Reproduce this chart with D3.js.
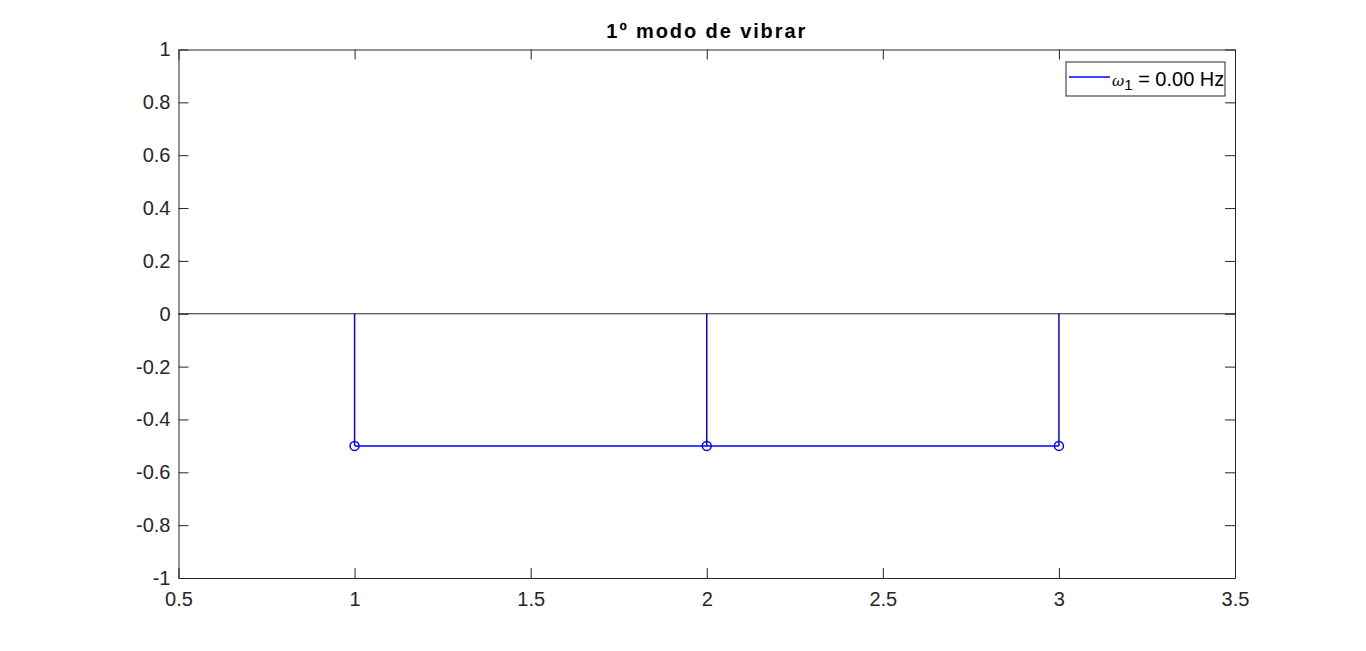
<!DOCTYPE html>
<html>
<head>
<meta charset="utf-8">
<script src="https://cdn.jsdelivr.net/npm/d3@7"></script>
<style>
  body { margin: 0; background: #fff; }
  text { font-family: "Liberation Sans", Arial, sans-serif; }
</style>
</head>
<body>
<div class="graph-container"></div>
<script>
// data
var nodes = [1, 2, 3]
var mode1 = [-0.5, -0.5, -0.5]
var xTicks = [0.5, 1, 1.5, 2, 2.5, 3, 3.5]
var yTicks = [-1, -0.8, -0.6, -0.4, -0.2, 0, 0.2, 0.4, 0.6, 0.8, 1]
var freqLabel = '0.00'

var W = 1366, H = 651
var margin = {top: 49.5, right: 131, bottom: 73, left: 178.5},
    width = W - margin.left - margin.right,
    height = H - margin.top - margin.bottom

var x = d3.scaleLinear().domain([0.5, 3.5]).range([0, width])
var y = d3.scaleLinear().domain([-1, 1]).range([height, 0])

var svg = d3.select(".graph-container").append("svg")
    .attr("width", W)
    .attr("height", H)

var g = svg.append("g")
    .attr("transform", "translate(" + margin.left + "," + margin.top + ")")

var axisCol = "#262626"

// axes (ticks inward, box)
var fmt = d => String(d)
var xAxis = d3.axisBottom(x).tickValues(xTicks).tickFormat(fmt).tickSizeInner(-10).tickSizeOuter(0)
var yAxis = d3.axisLeft(y).tickValues(yTicks).tickFormat(fmt).tickSizeInner(-10).tickSizeOuter(0)

g.append('g').attr('class', 'x-axis').attr("transform", "translate(0," + height + ")").call(xAxis)
g.append('g').attr('class', 'y-axis').call(yAxis)
g.append('g').attr('class', 'x-top').call(d3.axisTop(x).tickValues(xTicks).tickFormat('').tickSizeInner(-10).tickSizeOuter(0))
g.append('g').attr('class', 'y-right').attr("transform", "translate(" + width + ",0)")
  .call(d3.axisRight(y).tickValues(yTicks).tickFormat('').tickSizeInner(-10).tickSizeOuter(0))

g.selectAll('.domain, .tick line').attr('stroke', axisCol).attr('stroke-width', 1)
g.selectAll('.tick text').attr('fill', axisCol).style('font-size', '20px')
g.selectAll('.x-axis .tick text').attr('dy', '0.35em').attr('y', 21)
g.selectAll('.y-axis .tick text').attr('x', -8)

// baseline
g.append('line')
  .attr('x1', 0).attr('x2', width)
  .attr('y1', y(0)).attr('y2', y(0))
  .attr('stroke', axisCol).attr('stroke-width', 1)

var pts = nodes.map((n, i) => ({x: n, y: mode1[i]}))

// stems
g.selectAll('.stem').data(pts).enter().append('line')
  .attr('class', 'stem')
  .attr('x1', d => x(d.x)).attr('x2', d => x(d.x))
  .attr('y1', y(0)).attr('y2', d => y(d.y))
  .attr('stroke', '#0000ff').attr('stroke-width', 1.5)

// connecting line
var line = d3.line().x(d => x(d.x)).y(d => y(d.y))
g.append('path').datum(pts)
  .attr('d', line)
  .attr('fill', 'none')
  .attr('stroke', '#0000ff').attr('stroke-width', 1.5)

// markers
g.selectAll('.mk').data(pts).enter().append('circle')
  .attr('class', 'mk')
  .attr('cx', d => x(d.x)).attr('cy', d => y(d.y))
  .attr('r', 4.5)
  .attr('fill', 'none')
  .attr('stroke', '#0000ff').attr('stroke-width', 1.5)

// title
svg.append('text')
  .attr('x', margin.left + width / 2).attr('y', 38)
  .attr('text-anchor', 'middle')
  .style('font-size', '20px').style('font-weight', 'bold')
  .style('letter-spacing', '1.9px')
  .attr('fill', '#000')
  .text('1º modo de vibrar')

// legend
var lg = svg.append('g').attr('transform', 'translate(1066,62)')
lg.append('rect').attr('width', 159).attr('height', 34)
  .attr('fill', '#fff').attr('stroke', axisCol).attr('stroke-width', 1)
lg.append('line').attr('x1', 3).attr('x2', 44).attr('y1', 15).attr('y2', 15)
  .attr('stroke', '#0000ff').attr('stroke-width', 1.5)
var lt = lg.append('text').attr('x', 46).attr('y', 24).attr('fill', '#000')
lt.append('tspan').style('font-style', 'italic').style('font-family', '"DejaVu Serif", serif')
  .style('font-size', '15px').text('ω')
lt.append('tspan').attr('dy', 4).style('font-size', '15px').text('1')
lt.append('tspan').attr('dy', -4).style('font-size', '20px').text(' = ' + freqLabel + ' Hz')
</script>
</body>
</html>
